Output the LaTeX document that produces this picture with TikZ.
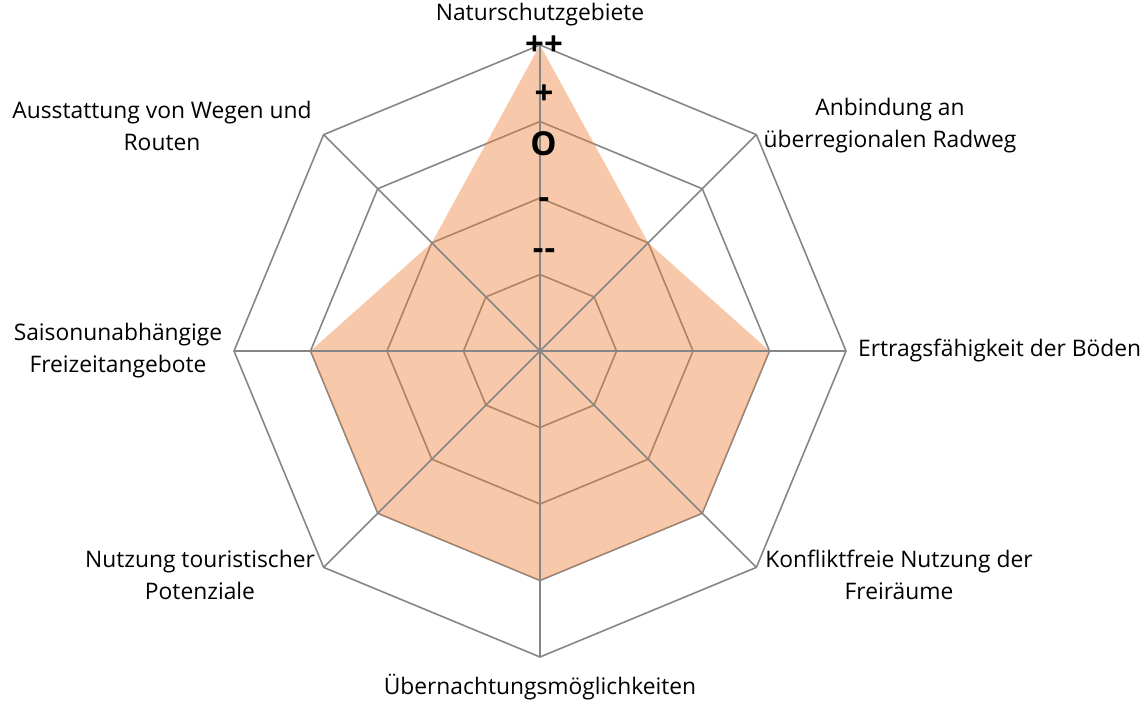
\documentclass[tikz,border=0pt]{standalone}
\usepackage{fontspec}
\setmainfont{Open Sans}
\usetikzlibrary{calc}
\definecolor{gridgray}{RGB}{134,134,134}
\definecolor{dataorange}{RGB}{237,125,49}
\begin{document}
\begin{tikzpicture}[x=1pt,y=-1pt,
  grid/.style={draw=gridgray,line width=1.6pt,line join=miter},
  datafill/.style={fill=dataorange,fill opacity=0.42},
  cat/.style={font=\fontsize{22.8}{32}\selectfont,align=center,text=black,inner sep=0pt},
  lvl/.style={font=\fontsize{33}{34}\bfseries\selectfont,inner sep=0pt}]
\useasboundingbox (0,0) rectangle (1141,702);
\coordinate (c) at (540,351);
% rings (angles negated because the y axis points down)
\foreach \r in {76.5,153,229.5,306}{
  \draw[grid] ($(c)+(-90:\r)$) \foreach \a in {45,0,-45,-90,-135,-180,-225}{ -- ($(c)+(-\a:\r)$)} -- cycle;
}
% data polygon
\fill[datafill] ($(c)+(-90:306)$) -- ($(c)+(-45:153)$) -- ($(c)+(0:229.5)$) -- ($(c)+(45:229.5)$) -- ($(c)+(90:229.5)$) -- ($(c)+(135:229.5)$) -- ($(c)+(180:229.5)$) -- ($(c)+(-135:153)$) -- cycle;
% spokes
\foreach \a/\n in {90/n,45/ne,0/e,-45/se,-90/s,-135/sw,180/w,135/nw}{
  \coordinate (\n) at ($(c)+(-\a:306)$);
  \draw[grid] (c) -- (\n);
}
% level labels
\node[lvl] (l4) at (544,46) {++};
\node[lvl] (l3) at (544,95) {+};
\node[lvl] (l2) at (543.5,144) {O};
\node[lvl] (l1) at (544,203) {-};
\node[lvl] (l0) at (544,254) {{-}\kern1pt{-}};
% categories
\node[cat] (tn) at (540,15) {Naturschutzgebiete};
\node[cat] (tne) at (890,126) {Anbindung an\\überregionalen Radweg};
\node[cat,anchor=west] (te) at (858,351) {Ertragsfähigkeit der Böden};
\node[cat] (tse) at (899,575) {Konfliktfreie Nutzung der\\Freiräume};
\node[cat] (ts) at (540,687) {Übernachtungsmöglichkeiten};
\node[cat] (tsw) at (200,575) {Nutzung touristischer\\Potenziale};
\node[cat] (tw) at (118,351) {Saisonunabhängige\\Freizeitangebote};
\node[cat] (tnw) at (162,126) {Ausstattung von Wegen und\\Routen};
\end{tikzpicture}
\end{document}
